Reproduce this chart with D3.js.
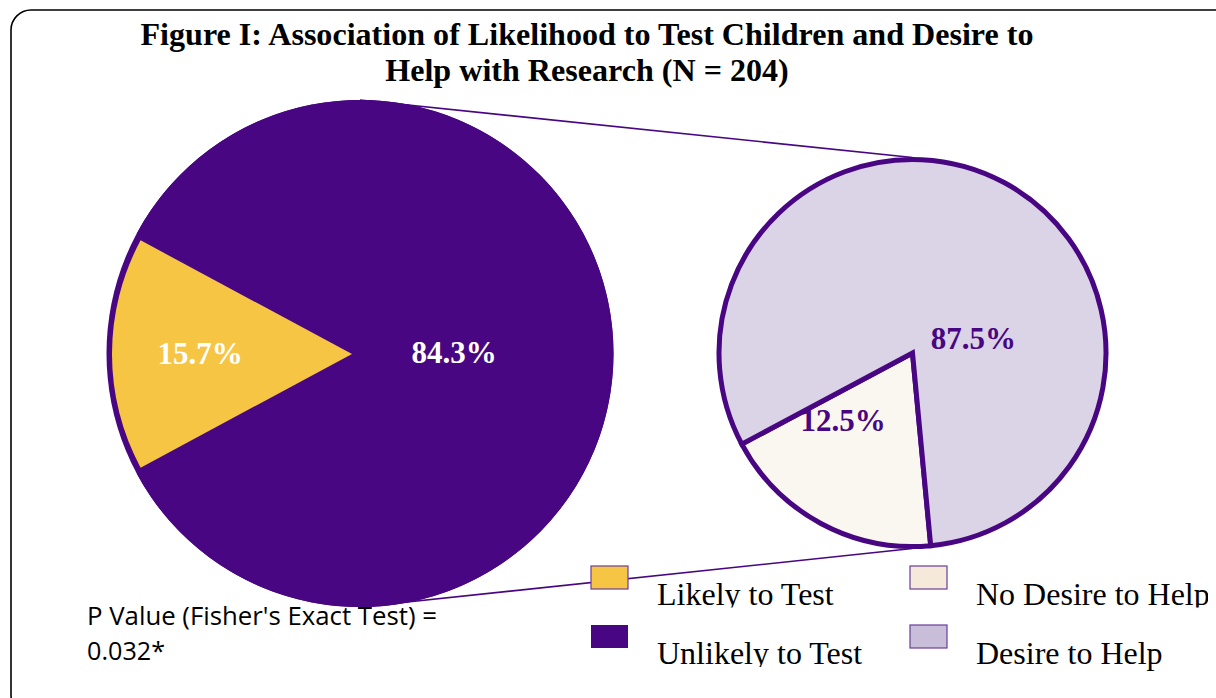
<!DOCTYPE html>
<html>
<head>
<meta charset="utf-8">
<script src="https://cdn.jsdelivr.net/npm/d3@7/dist/d3.min.js"></script>
<style>
  html, body { margin: 0; padding: 0; background: #fff; }
  svg { display: block; }
</style>
</head>
<body>
<svg id="chart" width="1216" height="698"></svg>
<script>
// ---------- data ----------
const titleLines = ["Figure I: Association of Likelihood to Test Children and Desire to",
                    "Help with Research (N = 204)"];
const mainCategories = ["Likely to Test", "Unlikely to Test"];
const mainValues = [15.7, 84.3];
const mainLabels = ["15.7%", "84.3%"];
const subCategories = ["No Desire to Help", "Desire to Help"];
const subValues = [18.7, 81.3];          // sector sizes as drawn in the picture
const subLabels = ["12.5%", "87.5%"];     // label texts as printed
const noteLines = ["P Value (Fisher's Exact Test) =", "0.032*"];

// ---------- styles ----------
const purple = "#480682";
const mainColors = ["#F7C544", purple];
const subColors = ["#FAF7F0", "#DBD3E6"];
const legendColors = ["#F7C544", purple, "#F5E9DA", "#C8BED9"];

const svg = d3.select("#chart");

// frame
svg.append("rect")
  .attr("x", 11).attr("y", 10).attr("width", 1230).attr("height", 705)
  .attr("rx", 20).attr("ry", 20)
  .attr("fill", "none").attr("stroke", "#000").attr("stroke-width", 1.6);

// title
svg.append("g").selectAll("text").data(titleLines).join("text")
  .attr("x", 587).attr("y", (d, i) => 45 + i * 36)
  .attr("text-anchor", "middle")
  .attr("font-family", "'Liberation Serif', 'Times New Roman', serif")
  .attr("font-weight", "bold").attr("font-size", 32.1)
  .attr("fill", "#000")
  .text(d => d);

// ---------- main pie ----------
const main = { cx: 352, cy: 354, r: 240, rimCx: 360, rimCy: 353.5, rimR: 253.5 };
const mainFrac0 = mainValues[0] / d3.sum(mainValues);
const mainPie = d3.pie().sort(null).value(d => d)
  .startAngle(1.5 * Math.PI - mainFrac0 * Math.PI)
  .endAngle(3.5 * Math.PI - mainFrac0 * Math.PI);
const mainArcs = mainPie(mainValues);

// body of the pie (colour of the larger slice)
svg.append("circle")
  .attr("cx", main.rimCx).attr("cy", main.rimCy).attr("r", main.rimR)
  .attr("fill", mainColors[1]);

const gMain = svg.append("g");
gMain.append("path")
  .attr("transform", `translate(${main.rimCx},${main.rimCy})`)
  .attr("d", d3.arc().innerRadius(0).outerRadius(main.rimR)(mainArcs[1]))
  .attr("fill", mainColors[1]);
gMain.append("path")
  .attr("transform", `translate(${main.cx},${main.cy})`)
  .attr("d", d3.arc().innerRadius(0).outerRadius(main.r)(mainArcs[0]))
  .attr("fill", mainColors[0]);

// ---------- secondary pie ----------
const sub = { cx: 912.5, cy: 353, r: 193.5 };
const subPie = d3.pie().sort(null).value(d => d)
  .startAngle(174.6 * Math.PI / 180)
  .endAngle((174.6 + 360) * Math.PI / 180);
const subArcs = subPie(subValues);
const subArc = d3.arc().innerRadius(0).outerRadius(sub.r);

// connector lines
const connectors = [
  [[main.rimCx, main.rimCy - main.rimR], [sub.cx, sub.cy - sub.r - 2]],
  [[main.rimCx, main.rimCy + main.rimR], [sub.cx, sub.cy + sub.r + 2]]
];
svg.append("g").selectAll("line").data(connectors).join("line")
  .attr("x1", d => d[0][0]).attr("y1", d => d[0][1])
  .attr("x2", d => d[1][0]).attr("y2", d => d[1][1])
  .attr("stroke", purple).attr("stroke-width", 1.6);

const gSub = svg.append("g").attr("transform", `translate(${sub.cx},${sub.cy})`);
gSub.selectAll("path").data(subArcs).join("path")
  .attr("d", subArc)
  .attr("fill", (d, i) => subColors[i])
  .attr("stroke", purple).attr("stroke-width", 5)
  .attr("stroke-linejoin", "miter");

// ---------- slice labels ----------
const labelFont = "'Liberation Serif', 'Times New Roman', serif";
const mainLabelOffsets = [[-0.633, 0.042], [0.425, 0.0375]];
const subLabelOffsets = [[-0.359, 0.403], [0.315, -0.021]];

svg.append("g").selectAll("text").data(mainLabels).join("text")
  .attr("x", (d, i) => main.cx + mainLabelOffsets[i][0] * main.r)
  .attr("y", (d, i) => main.cy + mainLabelOffsets[i][1] * main.r)
  .attr("text-anchor", "middle")
  .attr("font-family", labelFont).attr("font-weight", "bold").attr("font-size", 31)
  .attr("fill", "#fff")
  .text(d => d);

svg.append("g").selectAll("text").data(subLabels).join("text")
  .attr("x", (d, i) => sub.cx + subLabelOffsets[i][0] * sub.r)
  .attr("y", (d, i) => sub.cy + subLabelOffsets[i][1] * sub.r)
  .attr("text-anchor", "middle")
  .attr("font-family", labelFont).attr("font-weight", "bold").attr("font-size", 31)
  .attr("fill", purple)
  .text(d => d);

// ---------- legend ----------
const legendItems = [mainCategories[0], mainCategories[1], subCategories[0], subCategories[1]];
const legendPos = [[591, 566], [591, 625], [910, 566], [910, 625]];
const legendClip = [[0, 607.5, 1216], [0, 667, 1216], [0, 607.5, 1208], [0, 672, 1216]];
const defs = svg.append("defs");
legendItems.forEach((name, i) => {
  defs.append("clipPath").attr("id", "lc" + i)
    .append("rect").attr("x", 0).attr("y", 0)
    .attr("width", legendClip[i][2]).attr("height", legendClip[i][1]);
});
const gLeg = svg.append("g");
gLeg.selectAll("rect").data(legendItems).join("rect")
  .attr("x", (d, i) => legendPos[i][0]).attr("y", (d, i) => legendPos[i][1])
  .attr("width", 37).attr("height", 23)
  .attr("fill", (d, i) => legendColors[i])
  .attr("stroke", (d, i) => i === 1 ? "none" : "#6A3D9A").attr("stroke-width", 1.2);
gLeg.selectAll("text").data(legendItems).join("text")
  .attr("x", (d, i) => legendPos[i][0] + 66).attr("y", (d, i) => legendPos[i][1] + 39)
  .attr("clip-path", (d, i) => `url(#lc${i})`)
  .attr("font-family", labelFont).attr("font-size", 32)
  .attr("fill", "#000")
  .text(d => d);

// ---------- note ----------
const noteLens = [350, 78];
svg.append("g").selectAll("text").data(noteLines).join("text")
  .attr("x", 87).attr("y", (d, i) => 625 + i * 35)
  .attr("font-family", "'Open Sans', 'Noto Sans', sans-serif").attr("font-size", 25)
  .attr("textLength", (d, i) => noteLens[i]).attr("lengthAdjust", "spacingAndGlyphs")
  .attr("fill", "#000")
  .text(d => d);
</script>
</body>
</html>
